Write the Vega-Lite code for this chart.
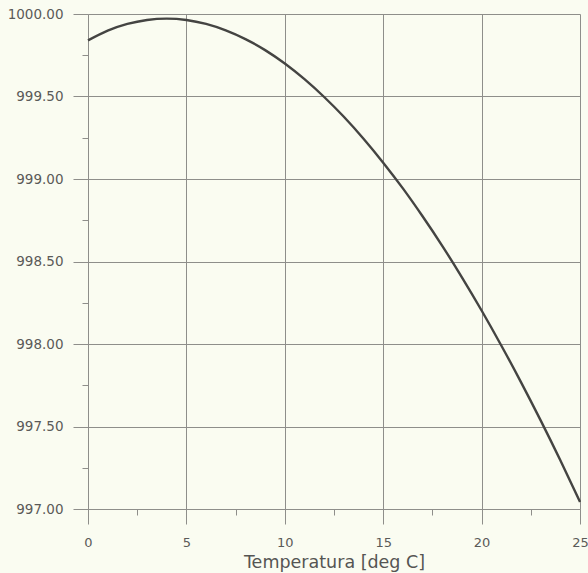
{
  "$schema": "https://vega.github.io/schema/vega-lite/v6.json",
  "width": 492,
  "height": 495,
  "autosize": {"type": "none"},
  "padding": {"left": 88, "top": 14, "right": 8, "bottom": 64},
  "background": "#fafcf1",
  "config": {
    "view": {"stroke": null},
    "font": "DejaVu Sans"
  },
  "data": {
    "values": [
      {"t": 0, "rho": 999.840},
      {"t": 1, "rho": 999.899},
      {"t": 2, "rho": 999.940},
      {"t": 3, "rho": 999.964},
      {"t": 4, "rho": 999.972},
      {"t": 5, "rho": 999.964},
      {"t": 6, "rho": 999.940},
      {"t": 7, "rho": 999.901},
      {"t": 8, "rho": 999.848},
      {"t": 9, "rho": 999.781},
      {"t": 10, "rho": 999.700},
      {"t": 11, "rho": 999.605},
      {"t": 12, "rho": 999.497},
      {"t": 13, "rho": 999.377},
      {"t": 14, "rho": 999.244},
      {"t": 15, "rho": 999.099},
      {"t": 16, "rho": 998.943},
      {"t": 17, "rho": 998.774},
      {"t": 18, "rho": 998.595},
      {"t": 19, "rho": 998.404},
      {"t": 20, "rho": 998.203},
      {"t": 21, "rho": 997.991},
      {"t": 22, "rho": 997.769},
      {"t": 23, "rho": 997.537},
      {"t": 24, "rho": 997.295},
      {"t": 25, "rho": 997.043}
    ]
  },
  "layer": [
    {
      "mark": {"type": "line", "color": "#444442", "strokeWidth": 2.4, "interpolate": "natural"},
      "encoding": {
        "x": {
          "field": "t", "type": "quantitative",
          "scale": {"domain": [0, 25], "nice": false, "zero": false},
          "axis": {
            "orient": "bottom",
            "values": [0, 5, 10, 15, 20, 25],
            "format": "d",
            "grid": true, "gridColor": "#8e8e8a", "gridWidth": 1, "gridOpacity": 1,
            "domain": true, "domainColor": "#8e8e8a",
            "ticks": true, "tickSize": 15, "tickColor": "#8e8e8a",
            "labelFlush": false, "labelOverlap": false,
            "labelColor": "#5a5a58", "labelFontSize": 13, "labelPadding": 12,
            "title": "Temperatura [deg C]", "titleColor": "#555553", "titleFontSize": 17.5,
            "titleFontWeight": "normal", "titlePadding": 4
          }
        },
        "y": {
          "field": "rho", "type": "quantitative",
          "scale": {"domain": [997, 1000], "nice": false, "zero": false},
          "axis": {
            "orient": "left",
            "values": [997, 997.5, 998, 998.5, 999, 999.5, 1000],
            "format": ".2f",
            "grid": true, "gridColor": "#8e8e8a", "gridWidth": 1, "gridOpacity": 1,
            "domain": true, "domainColor": "#8e8e8a",
            "ticks": true, "tickSize": 15, "tickColor": "#8e8e8a",
            "labelFlush": false, "labelOverlap": false,
            "labelColor": "#5a5a58", "labelFontSize": 13.5, "labelPadding": 10,
            "title": null
          }
        }
      }
    },
    {
      "mark": {"type": "line", "opacity": 0},
      "encoding": {
        "x": {
          "field": "t", "type": "quantitative",
          "axis": {
            "orient": "bottom",
            "values": [2.5, 7.5, 12.5, 17.5, 22.5],
            "grid": false, "domain": false, "labels": false,
            "ticks": true, "tickSize": 6, "tickColor": "#8e8e8a",
            "title": null
          }
        },
        "y": {
          "field": "rho", "type": "quantitative",
          "axis": {
            "orient": "left",
            "values": [997.25, 997.75, 998.25, 998.75, 999.25, 999.75],
            "grid": false, "domain": false, "labels": false,
            "ticks": true, "tickSize": 6, "tickColor": "#8e8e8a",
            "title": null
          }
        }
      }
    }
  ],
  "resolve": {"axis": {"x": "independent", "y": "independent"}}
}
